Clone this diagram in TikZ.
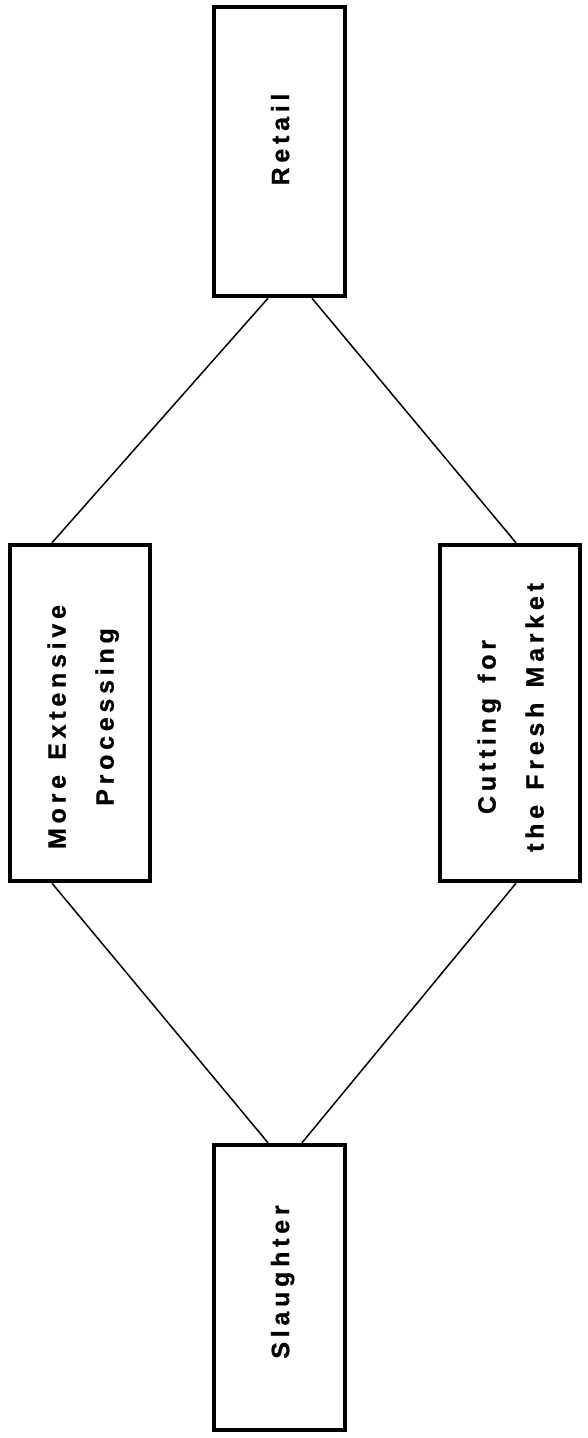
\documentclass[tikz,border=0pt]{standalone}
\usepackage{fontspec}
\setmainfont{Liberation Sans}
\newfontfamily\boxfont[LetterSpace=19,WordSpace=1.3,FakeBold=0.8]{Liberation Sans Bold}
\usetikzlibrary{positioning}
\newcommand{\boxtext}[1]{\rotatebox{90}{\begin{tabular}{@{}c@{}}#1\end{tabular}}}
% move one line along its own direction
\newcommand{\nudge}[2]{\hspace*{#1}#2\hspace*{-#1}}
\begin{document}
\begin{tikzpicture}[x=1pt, y=-1pt,
    stage/.style = {draw, line width=4.5pt, rectangle, inner sep=0pt,
                    font=\boxfont\fontsize{25}{48}\selectfont},
    link/.style = {line width=1.5pt}]
\useasboundingbox (0,0) rectangle (587,1438);

\node[stage, minimum width=131pt, minimum height=289pt] (retail) at (279.5,151.5) {\boxtext{\nudge{12pt}{Retail}}};
\node[stage, minimum width=140pt, minimum height=336pt] (process) at (80,713) {\boxtext{\nudge{-14pt}{More Extensive}\\\nudge{-4pt}{Processing}}};
\node[stage, minimum width=140pt, minimum height=336pt] (cutting) at (510,713) {\boxtext{\nudge{-14pt}{Cutting for}\\\nudge{-4.5pt}{the Fresh Market}}};
\node[stage, minimum width=131pt, minimum height=285pt] (slaughter) at (279.5,1287.5) {\boxtext{\nudge{5.5pt}{Slaughter}}};

\draw[link] ([xshift=-11.5pt]retail.south) -- ([xshift=-28pt]process.north);
\draw[link] ([xshift=32.5pt]retail.south) -- ([xshift=6pt]cutting.north);
\draw[link] ([xshift=-28pt]process.south) -- ([xshift=-11.5pt]slaughter.north);
\draw[link] ([xshift=6pt]cutting.south) -- ([xshift=22.5pt]slaughter.north);

\end{tikzpicture}
\end{document}
